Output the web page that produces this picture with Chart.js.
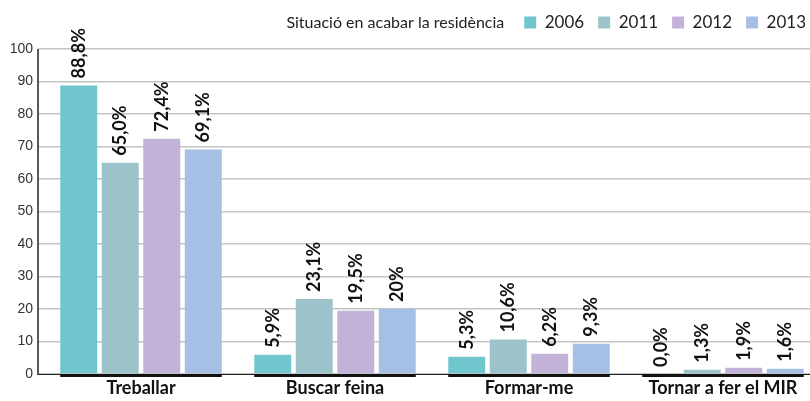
<!DOCTYPE html>
<html>
<head>
<meta charset="utf-8">
<script src="https://cdn.jsdelivr.net/npm/chart.js@4.4.0/dist/chart.umd.min.js"></script>
<style>
  body { margin: 0; background: #fff; overflow: hidden; }
  #wrap { width: 820px; height: 401px; }
</style>
</head>
<body>
<div id="wrap"><canvas id="myChart"></canvas></div>
<script>
// data
const categories = ['Treballar', 'Buscar feina', 'Formar-me', 'Tornar a fer el MIR'];
const years = ['2006', '2011', '2012', '2013'];
const v2006 = [88.8, 5.9, 5.3, 0.0];
const v2011 = [65.0, 23.1, 10.6, 1.3];
const v2012 = [72.4, 19.5, 6.2, 1.9];
const v2013 = [69.1, 20, 9.3, 1.6];
const labels2013 = ['69,1%', '20%', '9,3%', '1,6%'];
const yTicks = [0, 10, 20, 30, 40, 50, 60, 70, 80, 90, 100];
const colors = ['#71c6ce', '#9cc3c9', '#c3b2d8', '#a6bfe4'];
const legendTitle = 'Situació en acabar la residència';

function fmt(v) {
    return v.toFixed(1).replace('.', ',') + '%';
}

// value labels, rotated, above each bar
const barLabels = {
    id: 'barLabels',
    afterDatasetsDraw(chart) {
        const ctx = chart.ctx;
        ctx.save();
        ctx.font = "bold 18px 'Lato'";
        ctx.fillStyle = '#111';
        ctx.textAlign = 'left';
        ctx.textBaseline = 'middle';
        chart.data.datasets.forEach((ds, i) => {
            chart.getDatasetMeta(i).data.forEach((bar, j) => {
                const txt = ds.texts ? ds.texts[j] : fmt(ds.data[j]);
                ctx.save();
                ctx.translate(bar.x, bar.y - 7);
                ctx.rotate(-Math.PI / 2);
                ctx.fillText(txt, 0, 0);
                ctx.restore();
            });
        });
        ctx.restore();
    }
};

// axis lines, thick black bar under each category group, legend title
const extras = {
    id: 'extras',
    beforeInit(chart) {
        const fit = chart.legend.fit;
        chart.legend.fit = function() {
            fit.bind(chart.legend)();
            this.height += 8;
        };
    },
    afterDatasetsDraw(chart) {
        const ctx = chart.ctx;
        const area = chart.chartArea;
        const axisX = area.left - 6;
        ctx.save();
        ctx.strokeStyle = '#222';
        ctx.lineWidth = 1.5;
        ctx.beginPath();
        ctx.moveTo(axisX, area.top);
        ctx.lineTo(axisX, area.bottom + 1);
        ctx.stroke();
        ctx.lineWidth = 1;
        ctx.beginPath();
        ctx.moveTo(axisX, area.bottom + 0.5);
        ctx.lineTo(area.right, area.bottom + 0.5);
        ctx.stroke();
        const first = chart.getDatasetMeta(0).data;
        const last = chart.getDatasetMeta(chart.data.datasets.length - 1).data;
        ctx.fillStyle = '#111';
        first.forEach((bar, j) => {
            const l = bar.x - bar.width / 2;
            const r = last[j].x + last[j].width / 2;
            ctx.fillRect(l, area.bottom, r - l, 3);
        });
        ctx.restore();
    },
    afterDraw(chart) {
        const ctx = chart.ctx;
        const lg = chart.legend;
        ctx.save();
        ctx.font = "16px 'Lato'";
        ctx.fillStyle = '#222';
        ctx.textAlign = 'right';
        ctx.textBaseline = 'middle';
        const item = lg.legendHitBoxes[0];
        ctx.fillText(legendTitle, item.left - 20, item.top + item.height / 2);
        ctx.restore();
    }
};

const ctx = document.getElementById('myChart').getContext('2d');
const myChart = new Chart(ctx, {
    type: 'bar',
    data: {
        labels: categories,
        datasets: [
            { label: years[0], data: v2006, backgroundColor: colors[0] },
            { label: years[1], data: v2011, backgroundColor: colors[1] },
            { label: years[2], data: v2012, backgroundColor: colors[2] },
            { label: years[3], data: v2013, backgroundColor: colors[3], texts: labels2013 }
        ]
    },
    options: {
        responsive: true,
        maintainAspectRatio: false,
        animation: false,
        layout: { padding: { top: 0, right: 0, left: 0, bottom: 0 } },
        datasets: {
            bar: { categoryPercentage: 0.856, barPercentage: 0.89 }
        },
        plugins: {
            legend: {
                position: 'top',
                align: 'end',
                labels: {
                    boxWidth: 12,
                    boxHeight: 12,
                    padding: 14,
                    color: '#222',
                    font: { family: "'Lato'", size: 17 }
                }
            },
            tooltip: { enabled: false }
        },
        scales: {
            x: {
                grid: { display: false, drawTicks: false, tickLength: 0 },
                border: { display: false },
                ticks: {
                    color: '#111',
                    padding: 3,
                    font: { family: "'Lato'", size: 18, weight: 'bold' }
                },
                afterFit(scale) { scale.height = 27; }
            },
            y: {
                min: 0,
                max: 100,
                afterBuildTicks(scale) {
                    scale.ticks = yTicks.map(v => ({ value: v }));
                },
                grid: { color: '#c4c4c4', lineWidth: 1.5, drawTicks: true, tickLength: 6, tickColor: '#c4c4c4' },
                border: { display: false },
                ticks: {
                    color: '#333',
                    padding: 5,
                    font: { family: "'Liberation Sans'", size: 14 }
                },
                afterFit(scale) { scale.width = 44; }
            }
        }
    },
    plugins: [barLabels, extras]
});
</script>
</body>
</html>
